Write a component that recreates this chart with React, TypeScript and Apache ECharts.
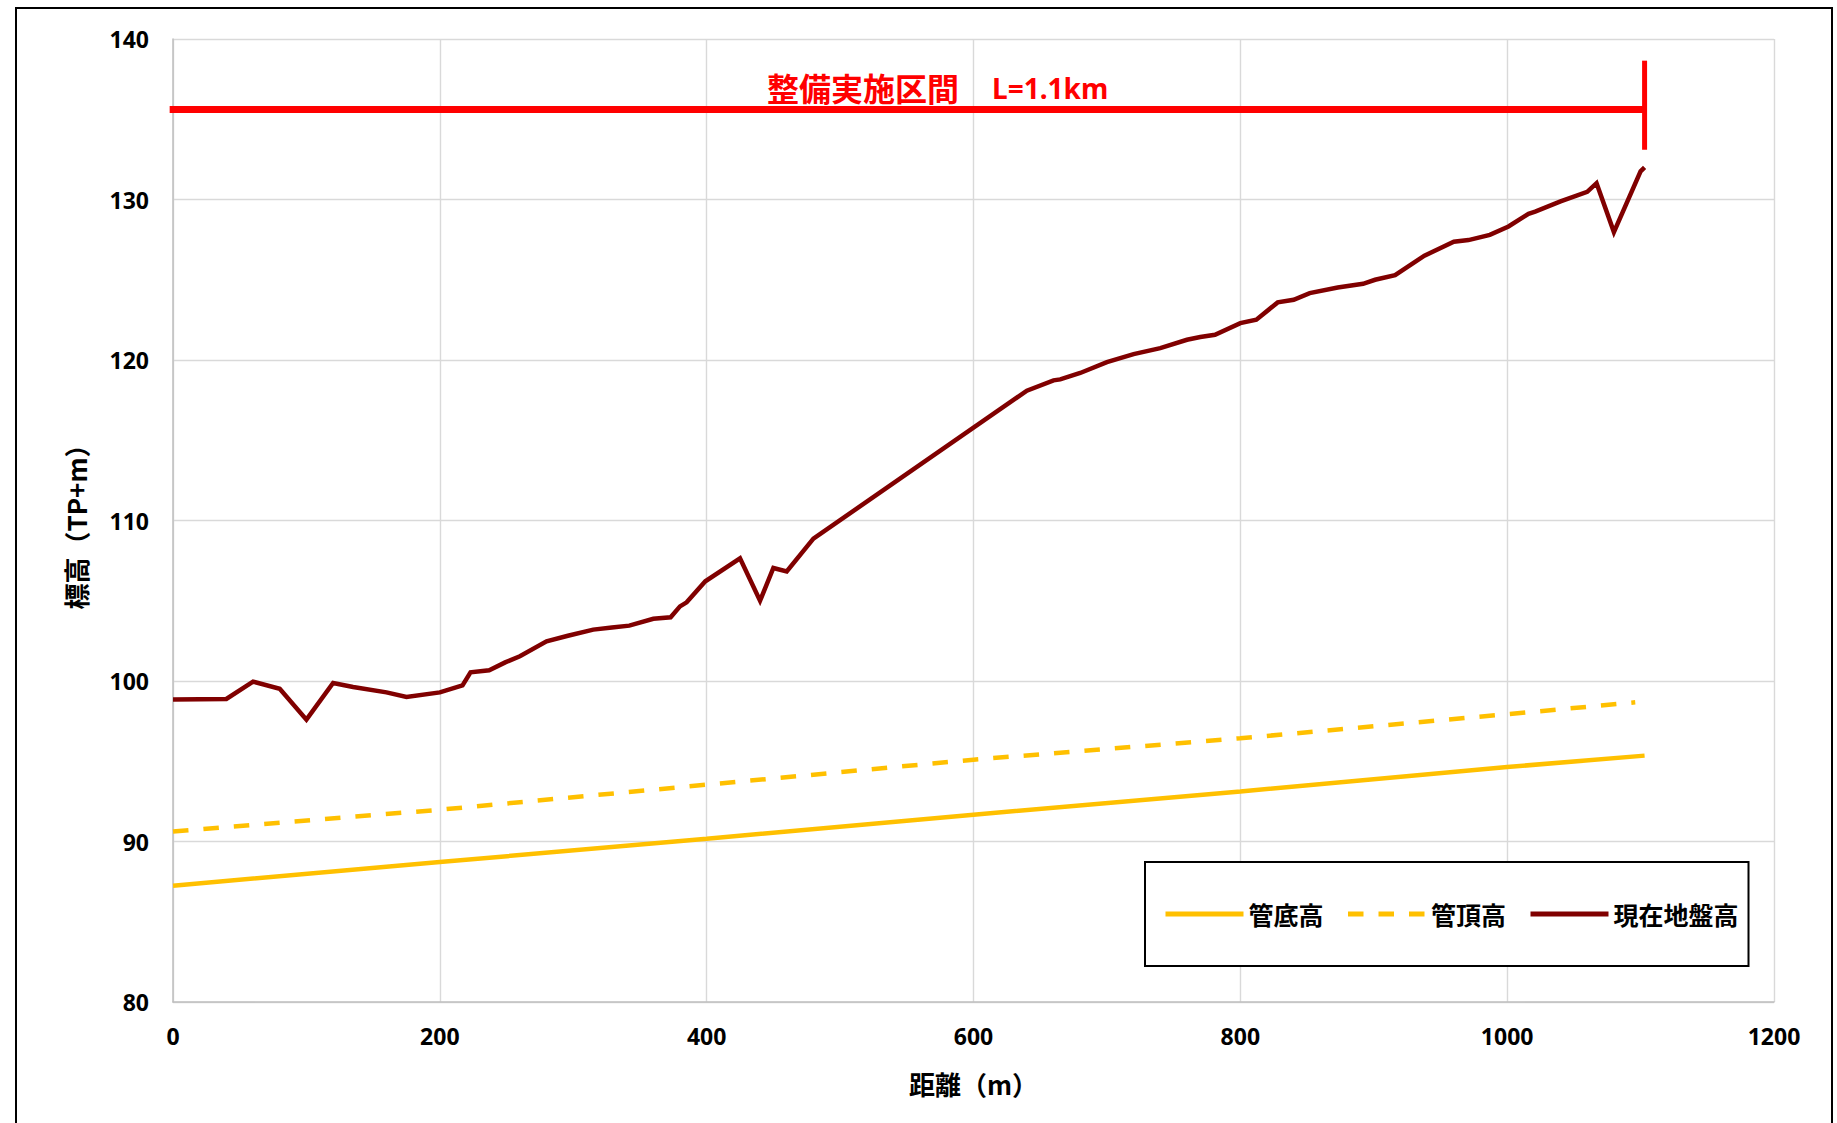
import React, { useEffect, useRef } from 'react';
import * as echarts from 'echarts';

// ---- data ----
const SERIES_NAMES = ['管底高', '管頂高', '現在地盤高'];

const pipeBottomX = [0, 200, 400, 600, 800, 1000, 1103];
const pipeBottomY = [87.25, 88.72, 90.17, 91.67, 93.12, 94.64, 95.35];

const pipeTopX = [0, 200, 400, 600, 800, 1000, 1096];
const pipeTopY = [90.63, 91.98, 93.54, 95.1, 96.43, 97.93, 98.67];

const groundX = [
  0, 40, 60, 80, 100, 120, 135, 160, 175, 200, 217, 223, 237, 249, 260, 280, 296, 315, 329, 342,
  360, 373, 380, 385, 399, 425, 440, 450, 460, 480, 640, 660, 665, 680, 700, 720, 740, 760, 770,
  781, 800, 812, 828, 840, 852, 873, 892, 901, 916, 938, 960, 971, 987, 1001, 1016, 1021, 1040,
  1060, 1067, 1080, 1100, 1103,
];
const groundY = [
  98.84, 98.88, 99.96, 99.52, 97.59, 99.88, 99.63, 99.29, 99.0, 99.29, 99.73, 100.54, 100.67,
  101.16, 101.54, 102.47, 102.82, 103.2, 103.34, 103.45, 103.88, 103.97, 104.65, 104.9, 106.21,
  107.64, 105.0, 107.04, 106.83, 108.87, 118.09, 118.73, 118.79, 119.19, 119.87, 120.37, 120.74,
  121.26, 121.43, 121.57, 122.3, 122.51, 123.59, 123.75, 124.17, 124.52, 124.75, 125.0, 125.29,
  126.5, 127.37, 127.47, 127.8, 128.32, 129.11, 129.24, 129.88, 130.48, 131.02, 127.97, 131.75,
  132.0,
];

// section annotation (整備実施区間 L=1.1km)
const sectionStart = -2.5;
const sectionEnd = 1103;
const sectionLevel = 135.6;
const sectionTickTop = 138.65;
const sectionTickBottom = 133.1;
const sectionTitle = '整備実施区間';
const sectionLength = 'L=1.1km';

const xAxisName = '距離（m）';
const yAxisName = '標高（TP+m）';

const zip = (xs: number[], ys: number[]) => xs.map((x, i) => [x, ys[i]]);

const LATIN = "'Noto Sans', 'Noto Sans CJK JP', sans-serif";
const CJK = "'Noto Sans CJK JP', 'Noto Sans', sans-serif";

const YELLOW = '#FFC000';
const DARKRED = '#800000';
const RED = '#FF0000';

export default function App() {
  const ref = useRef<HTMLDivElement>(null);

  useEffect(() => {
    if (!ref.current) return;
    const chart = echarts.init(ref.current, null, { renderer: 'svg' });

    const option: any = {
      animation: false,
      backgroundColor: '#ffffff',
      grid: { left: 173, right: 63, top: 39, bottom: 121, containLabel: false },
      xAxis: {
        type: 'value',
        min: 0,
        max: 1200,
        interval: 200,
        name: xAxisName,
        nameLocation: 'middle',
        nameGap: 68,
        nameTextStyle: { fontFamily: CJK, fontSize: 26, fontWeight: 'bold', color: '#000' },
        axisLine: { show: true, lineStyle: { color: '#bfbfbf', width: 1.5 } },
        axisTick: { show: false },
        axisLabel: {
          margin: 22,
          fontFamily: LATIN,
          fontSize: 23,
          fontWeight: 'bold',
          color: '#000',
          formatter: (v: number) => String(v),
        },
        splitLine: { show: true, lineStyle: { color: '#d9d9d9', width: 1.4 } },
      },
      yAxis: {
        type: 'value',
        min: 80,
        max: 140,
        interval: 10,
        name: yAxisName,
        nameLocation: 'middle',
        nameGap: 85,
        nameTextStyle: { fontFamily: CJK, fontSize: 26, fontWeight: 'bold', color: '#000' },
        axisLine: { show: true, lineStyle: { color: '#bfbfbf', width: 1.5 } },
        axisTick: { show: false },
        axisLabel: {
          margin: 24,
          fontFamily: LATIN,
          fontSize: 23,
          fontWeight: 'bold',
          color: '#000',
          formatter: (v: number) => String(v),
        },
        splitLine: { show: true, lineStyle: { color: '#d9d9d9', width: 1.4 } },
      },
      legend: {
        data: SERIES_NAMES,
        left: 1145,
        top: 862,
        orient: 'horizontal',
        padding: [39, 10, 39, 18],
        itemGap: 22,
        itemWidth: 78,
        itemHeight: 14,
        borderColor: '#000',
        borderWidth: 2,
        backgroundColor: '#fff',
        itemStyle: { opacity: 0 },
        lineStyle: { width: 5 },
        textStyle: { fontFamily: CJK, fontSize: 25, fontWeight: 'bold', color: '#000', lineHeight: 26 },
      },
      series: [
        {
          name: SERIES_NAMES[0],
          type: 'line',
          data: zip(pipeBottomX, pipeBottomY),
          symbol: 'none',
          lineStyle: { color: YELLOW, width: 4.5 },
          itemStyle: { color: YELLOW },
          z: 3,
        },
        {
          name: SERIES_NAMES[1],
          type: 'line',
          data: zip(pipeTopX, pipeTopY),
          symbol: 'none',
          lineStyle: { color: YELLOW, width: 4.5, type: [15.5, 15] },
          itemStyle: { color: YELLOW },
          z: 3,
        },
        {
          name: SERIES_NAMES[2],
          type: 'line',
          data: zip(groundX, groundY),
          symbol: 'none',
          lineStyle: { color: DARKRED, width: 4.5, join: 'miter' },
          itemStyle: { color: DARKRED },
          z: 4,
        },
        {
          name: 'section',
          type: 'line',
          data: [
            [sectionStart, sectionLevel],
            [sectionEnd, sectionLevel],
          ],
          symbol: 'none',
          clip: false,
          silent: true,
          lineStyle: { color: RED, width: 7 },
          z: 5,
        },
        {
          name: 'sectionEnd',
          type: 'line',
          data: [
            [sectionEnd, sectionTickTop],
            [sectionEnd, sectionTickBottom],
          ],
          symbol: 'none',
          clip: false,
          silent: true,
          lineStyle: { color: RED, width: 5 },
          z: 5,
        },
      ],
      graphic: [
        {
          type: 'rect',
          shape: { x: 16, y: 8, width: 1816, height: 1200 },
          style: { fill: 'none', stroke: '#000', lineWidth: 2 },
          silent: true,
          z: 100,
        },
        {
          type: 'text',
          x: 767,
          y: 87,
          style: {
            text: sectionTitle,
            fill: RED,
            font: `bold 32px ${CJK}`,
            textVerticalAlign: 'middle',
            textAlign: 'left',
          },
          z: 10,
        },
        {
          type: 'text',
          x: 992,
          y: 88,
          style: {
            text: sectionLength,
            fill: RED,
            font: `bold 28px ${LATIN}`,
            textVerticalAlign: 'middle',
            textAlign: 'left',
          },
          z: 10,
        },
      ],
    };

    chart.setOption(option);
    return () => {
      chart.dispose();
    };
  }, []);

  return (
    <div
      ref={ref}
      style={{ position: 'absolute', left: 0, top: 0, width: 1837, height: 1123, background: '#fff' }}
    />
  );
}
